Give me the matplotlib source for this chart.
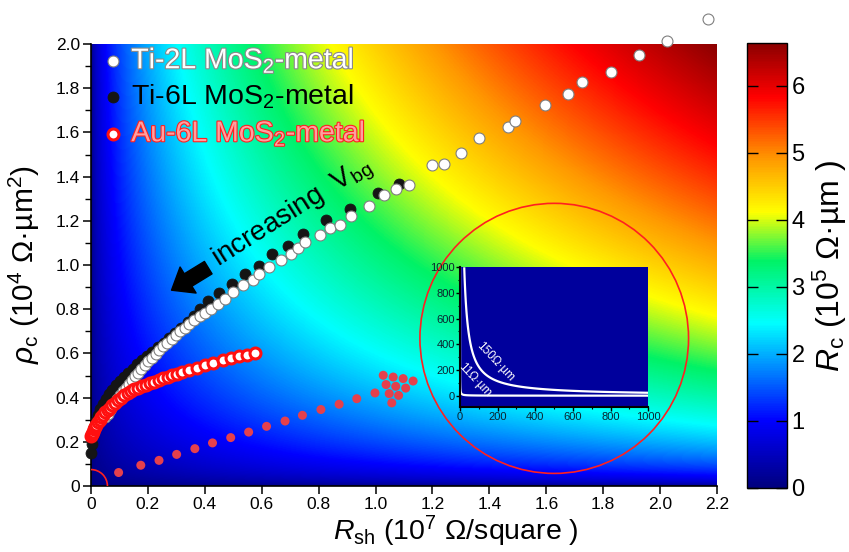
import numpy as np
import matplotlib
matplotlib.use("Agg")
import matplotlib.pyplot as plt
import matplotlib.patheffects as pe
from matplotlib.colors import LinearSegmentedColormap
from matplotlib.patches import Ellipse
from matplotlib.ticker import MultipleLocator, FuncFormatter

plt.rcParams['font.family'] = ['Liberation Sans', 'DejaVu Sans']
plt.rcParams['mathtext.fontset'] = 'custom'
plt.rcParams['mathtext.rm'] = 'Liberation Sans'
plt.rcParams['mathtext.it'] = 'Liberation Sans:italic'
plt.rcParams['mathtext.bf'] = 'Liberation Sans:bold'

# ---- data (Rsh in 1e7 ohm/sq, rho_c in 1e4 ohm um^2)
ti6_x = [0.000, 0.003, 0.007, 0.012, 0.018, 0.025, 0.033, 0.042, 0.052, 0.063,
         0.075, 0.088, 0.102, 0.116, 0.131, 0.147, 0.163, 0.180, 0.198, 0.216,
         0.235, 0.255, 0.275, 0.296, 0.318, 0.340, 0.362, 0.383, 0.411, 0.450,
         0.496, 0.540, 0.592, 0.636, 0.691, 0.746, 0.827, 0.910, 1.008, 1.081]
ti6_y = [0.150, 0.190, 0.230, 0.265, 0.295, 0.322, 0.347, 0.371, 0.394, 0.415,
         0.435, 0.455, 0.474, 0.493, 0.512, 0.531, 0.550, 0.569, 0.588, 0.607,
         0.627, 0.648, 0.670, 0.693, 0.717, 0.742, 0.770, 0.800, 0.835, 0.874,
         0.913, 0.958, 0.997, 1.048, 1.087, 1.140, 1.203, 1.253, 1.324, 1.366]

ti2_x = [0.050, 0.058, 0.066, 0.075, 0.084, 0.093, 0.102, 0.112, 0.122, 0.132,
         0.143, 0.154, 0.165, 0.177, 0.189, 0.201, 0.214, 0.227, 0.240, 0.254,
         0.268, 0.283, 0.298, 0.313, 0.329, 0.345, 0.362, 0.383, 0.402, 0.420,
         0.446, 0.470, 0.499, 0.534, 0.569, 0.592, 0.627, 0.668, 0.703, 0.729,
         0.753, 0.804, 0.839, 0.874, 0.913, 0.977, 1.029, 1.073, 1.116, 1.200,
         1.242, 1.301, 1.362, 1.466, 1.490, 1.594, 1.675, 1.724, 1.827, 1.927,
         2.025, 2.168]
ti2_y = [0.312, 0.328, 0.344, 0.360, 0.377, 0.394, 0.411, 0.428, 0.445, 0.462,
         0.479, 0.496, 0.513, 0.530, 0.547, 0.564, 0.581, 0.598, 0.615, 0.632,
         0.649, 0.666, 0.683, 0.700, 0.717, 0.734, 0.750, 0.767, 0.785, 0.800,
         0.825, 0.848, 0.878, 0.908, 0.931, 0.961, 0.991, 1.021, 1.048, 1.079,
         1.104, 1.134, 1.169, 1.180, 1.220, 1.268, 1.315, 1.342, 1.364, 1.454,
         1.457, 1.509, 1.575, 1.623, 1.653, 1.724, 1.772, 1.827, 1.872, 1.949,
         2.014, 2.113]

au6_x = [0.000, 0.003, 0.006, 0.010, 0.014, 0.019, 0.024, 0.030, 0.036, 0.043,
         0.050, 0.058, 0.066, 0.075, 0.085, 0.095, 0.106, 0.117, 0.129, 0.141,
         0.152, 0.165, 0.178, 0.192, 0.207, 0.222, 0.238, 0.254, 0.270, 0.286,
         0.303, 0.320, 0.343, 0.371, 0.400, 0.429, 0.464, 0.493, 0.520, 0.548,
         0.575]
au6_y = [0.225, 0.235, 0.245, 0.256, 0.267, 0.278, 0.289, 0.300, 0.311, 0.322,
         0.333, 0.344, 0.355, 0.366, 0.377, 0.388, 0.399, 0.410, 0.420, 0.430,
         0.438, 0.445, 0.452, 0.459, 0.465, 0.472, 0.480, 0.487, 0.494, 0.501,
         0.507, 0.514, 0.524, 0.535, 0.546, 0.557, 0.568, 0.579, 0.587, 0.595,
         0.600]

red_x = [0.097, 0.175, 0.239, 0.301, 0.365, 0.427, 0.491, 0.554, 0.617, 0.682,
         0.743, 0.808, 0.872, 0.934, 0.998, 1.027, 1.062, 1.097, 1.132, 1.037,
         1.071, 1.106, 1.048, 1.081, 1.057]
red_y = [0.061, 0.094, 0.116, 0.143, 0.169, 0.195, 0.219, 0.244, 0.270, 0.294,
         0.320, 0.346, 0.370, 0.395, 0.421, 0.501, 0.493, 0.486, 0.475, 0.459,
         0.451, 0.443, 0.418, 0.410, 0.376]

inset_levels = [11, 150]          # Rc contours, ohm um
inset_labels = ['11Ω·µm', '150Ω·µm']

labels = ['Ti-2L MoS$_2$-metal', 'Ti-6L MoS$_2$-metal', 'Au-6L MoS$_2$-metal']

fig = plt.figure(figsize=(8.49, 5.52), dpi=100)
ax = fig.add_axes([91/849, 1-486/552, 626/849, 442/552])

# background: Rc = sqrt(rho_c * Rsh), in 1e5 ohm um
cmap = LinearSegmentedColormap.from_list('origin_rainbow', [
    (0.00, (0.0, 0.0, 0.5)), (0.15, (0.0, 0.0, 1.0)), (0.37, (0.0, 1.0, 1.0)),
    (0.51, (0.0, 0.95, 0.4)), (0.62, (1.0, 1.0, 0.0)), (0.74, (1.0, 0.6, 0.0)),
    (0.88, (1.0, 0.0, 0.0)), (1.00, (0.55, 0.0, 0.0))])
gx = np.linspace(0, 2.2, 500)
gy = np.linspace(0, 2.0, 500)
GX, GY = np.meshgrid(gx, gy)
RC = np.sqrt(GX * 1e7 * GY * 1e4) / 1e5
im = ax.imshow(RC, extent=[0, 2.2, 0, 2.0], origin='lower', aspect='auto',
               cmap=cmap, vmin=0, vmax=RC.max(), zorder=0)

ax.set_xlim(0, 2.2)
ax.set_ylim(0, 2.0)

ax.add_patch(Ellipse((1.628, 0.668), 0.944, 1.222, fill=False, ec='#ff2020', lw=1.2, zorder=2))

s6 = ax.scatter(ti6_x, ti6_y, s=62, c='#151515', edgecolors='#151515', lw=0.6, zorder=3, clip_on=False)
s2 = ax.scatter(ti2_x, ti2_y, s=62, c='white', edgecolors='#7f7f7f', lw=0.8, zorder=4, clip_on=False)
sa = ax.scatter(au6_x, au6_y, s=62, c='white', edgecolors='#ff1010', lw=2.2, zorder=5, clip_on=False)
ax.scatter(red_x, red_y, s=42, c='#e5404c', edgecolors='none', zorder=5)
ax.scatter([0], [0], s=560, facecolors='none', edgecolors='#ff2020', lw=1.2, zorder=5)

leg = ax.legend([s2, s6, sa], labels, loc='upper left', bbox_to_anchor=(-0.013, 1.03),
                frameon=False, fontsize=20.5, handletextpad=0.15, handlelength=1.0,
                labelspacing=0.28, borderaxespad=0.15, scatterpoints=1)
t2, t6, ta = leg.get_texts()
t2.set_color('white')
t2.set_path_effects([pe.withStroke(linewidth=1.6, foreground='#8a8a8a')])
t6.set_color('black')
ta.set_color('#ffa0a0')
ta.set_path_effects([pe.withStroke(linewidth=1.6, foreground='#ff2020')])

# increasing Vbg arrow + text
ax.annotate('', xy=(0.283, 0.886), xytext=(0.412, 0.988),
            arrowprops=dict(arrowstyle='simple,head_length=1.4,head_width=2.2,tail_width=1.05',
                            fc='black', ec='black', shrinkA=0, shrinkB=0, mutation_scale=10),
            zorder=6)
ax.text(0.446, 0.991, 'increasing  V$_{\\rm bg}$', rotation=32.4, rotation_mode='anchor',
        ha='left', va='baseline', fontsize=20, color='black', zorder=6)

# axes styling
for side in ['top', 'right']:
    ax.spines[side].set_visible(False)
ax.spines['left'].set_linewidth(1.2)
ax.spines['bottom'].set_linewidth(1.2)
ax.xaxis.set_major_locator(MultipleLocator(0.2))
ax.yaxis.set_major_locator(MultipleLocator(0.2))
ax.yaxis.set_minor_locator(MultipleLocator(0.1))
fmt = FuncFormatter(lambda v, p: '0' if abs(v) < 1e-9 else '%.1f' % v)
ax.xaxis.set_major_formatter(fmt)
ax.yaxis.set_major_formatter(fmt)
ax.tick_params(axis='both', which='major', direction='out', length=6, width=1.1,
               labelsize=12.5, pad=2)
ax.tick_params(axis='y', which='minor', direction='out', length=4, width=1.0)
ax.set_xlabel('$R_{\\rm sh}$ (10$^7$ Ω/square )', fontsize=20.5)
ax.xaxis.set_label_coords(0.583, -0.062)
ax.set_ylabel('$\\rho_{\\rm c}$ (10$^4$ Ω·µm$^2$)', fontsize=21.5)
ax.yaxis.set_label_coords(-0.078, 0.5)

# colorbar
cax = fig.add_axes([746.7/849, 1-487.7/552, 40.6/849, 444.4/552])
cb = fig.colorbar(im, cax=cax)
cb.set_ticks(range(0, 7))
cb.ax.tick_params(direction='in', length=8, width=1.0, labelsize=17, left=True, right=True, pad=3)
cb.outline.set_linewidth(1.0)
cb.set_label('$R_{\\rm c}$ (10$^5$ Ω·µm )', fontsize=23, labelpad=4)

# inset
axi = fig.add_axes([460/849, 1-406.7/552, 188.3/849, 139.4/552])
axi.set_facecolor('#00009c')
ix = np.linspace(0.05, 1000, 2000)
iy = np.linspace(-86, 1000, 2000)
IX, IY = np.meshgrid(ix, iy)
IRC = np.sqrt(np.clip(IX * IY, 0, None))
axi.contour(IX, IY, IRC, levels=inset_levels, colors='white', linewidths=1.6)
axi.set_xlim(0, 1000)
axi.set_ylim(-86, 1000)
axi.text(80, 123, inset_labels[0], rotation=-47, fontsize=8.5, color='white', ha='center', va='center')
axi.text(189, 262, inset_labels[1], rotation=-47, fontsize=8.5, color='white', ha='center', va='center')
for side in ['top', 'right']:
    axi.spines[side].set_visible(False)
axi.spines['left'].set_linewidth(1.5)
axi.spines['bottom'].set_linewidth(1.5)
axi.xaxis.set_major_locator(MultipleLocator(200))
axi.xaxis.set_minor_locator(MultipleLocator(100))
axi.yaxis.set_major_locator(MultipleLocator(200))
axi.yaxis.set_minor_locator(MultipleLocator(100))
axi.tick_params(which='major', direction='out', length=3, width=1.0, labelsize=8,
                labelcolor='#0a2530', pad=0.5)
axi.tick_params(which='minor', direction='out', length=1.5, width=0.8)

fig.savefig('out.png', dpi=100)
